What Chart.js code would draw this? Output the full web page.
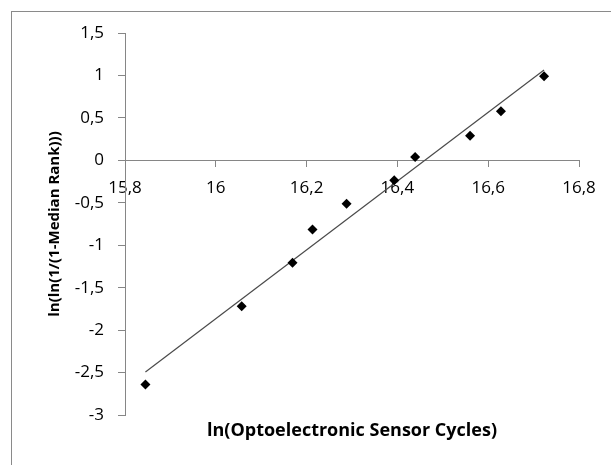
<!DOCTYPE html>
<html>
<head>
<meta charset="utf-8">
<script src="https://cdn.jsdelivr.net/npm/chart.js@4"></script>
<style>
  body { margin: 0; background: #fff; }
  #wrap { width: 611px; height: 465px; }
</style>
</head>
<body>
<div id="wrap"><canvas id="weibull"></canvas></div>
<script>
// data
const lnCycles = [15.845, 16.057, 16.169, 16.213, 16.288, 16.393, 16.439, 16.560, 16.628, 16.723];
const lnRank = [-2.64, -1.72, -1.207, -0.815, -0.51, -0.235, 0.04, 0.29, 0.577, 0.99];
const xTicks = [15.8, 16, 16.2, 16.4, 16.6, 16.8];
const yTicks = [-3, -2.5, -2, -1.5, -1, -0.5, 0, 0.5, 1, 1.5];

const xTitle = "ln(Optoelectronic Sensor Cycles)";
const yTitle = "ln(ln(1/(1-Median Rank)))";

// linear trend line (least squares)
function trend(xs, ys) {
  const n = xs.length;
  const mx = xs.reduce((a, b) => a + b, 0) / n;
  const my = ys.reduce((a, b) => a + b, 0) / n;
  let sxy = 0, sxx = 0;
  for (let i = 0; i < n; i++) {
    sxy += (xs[i] - mx) * (ys[i] - my);
    sxx += (xs[i] - mx) * (xs[i] - mx);
  }
  const k = sxy / sxx;
  const x0 = Math.min(...xs), x1 = Math.max(...xs);
  return [{ x: x0, y: my + k * (x0 - mx) }, { x: x1, y: my + k * (x1 - mx) }];
}

const fmt = v => String(+Number(v).toFixed(1)).replace(".", ",");
const axisGray = "#868686";
const font = "'Open Sans', sans-serif";

// frame + x title
const extras = {
  id: "extras",
  beforeDraw(chart) {
    const ctx = chart.ctx;
    ctx.save();
    ctx.strokeStyle = "#8a8a8a";
    ctx.lineWidth = 1;
    ctx.strokeRect(11.5, 11.5, 800, 800);
    ctx.restore();
  },
  afterDraw(chart) {
    const ctx = chart.ctx;
    const a = chart.chartArea;
    ctx.save();
    ctx.font = "bold 18px " + font;
    ctx.fillStyle = "#000";
    ctx.textAlign = "center";
    ctx.textBaseline = "middle";
    ctx.fillText(xTitle, (a.left + a.right) / 2, 431);
    ctx.restore();
  }
};

new Chart(document.getElementById("weibull"), {
  type: "scatter",
  data: {
    datasets: [
      {
        label: "data",
        data: lnCycles.map((x, i) => ({ x, y: lnRank[i] })),
        pointStyle: "rectRot",
        pointRadius: 5,
        pointHoverRadius: 5,
        backgroundColor: "#000",
        borderColor: "#000",
        borderWidth: 0
      },
      {
        label: "trend",
        type: "line",
        data: trend(lnCycles, lnRank),
        borderColor: "#4a4a4a",
        borderWidth: 1.2,
        pointRadius: 0,
        fill: false
      }
    ]
  },
  options: {
    responsive: true,
    maintainAspectRatio: false,
    animation: false,
    layout: { padding: { left: 10, top: 33, right: 32, bottom: 50 } },
    plugins: { legend: { display: false }, tooltip: { enabled: false } },
    scales: {
      x: {
        type: "linear",
        position: { y: 0 },
        min: 15.8,
        max: 16.8,
        afterBuildTicks: s => { s.ticks = xTicks.map(v => ({ value: v })); },
        ticks: { callback: fmt, color: "#000", font: { family: font, size: 17 }, padding: 12, maxRotation: 0 },
        grid: { drawOnChartArea: false, tickLength: 6, tickColor: axisGray },
        border: { color: axisGray, width: 1 }
      },
      y: {
        type: "linear",
        position: "left",
        min: -3,
        max: 1.5,
        afterBuildTicks: s => { s.ticks = yTicks.map(v => ({ value: v })); },
        afterFit: s => { s.width = 115; },
        ticks: { callback: fmt, color: "#000", font: { family: font, size: 17 }, padding: 14 },
        grid: { drawOnChartArea: false, tickLength: 7, tickColor: axisGray },
        border: { color: axisGray, width: 1 },
        title: { display: true, text: yTitle, color: "#000", font: { family: font, size: 15, weight: "bold" }, padding: { top: 36, bottom: 0 } }
      }
    }
  },
  plugins: [extras]
});
</script>
</body>
</html>
